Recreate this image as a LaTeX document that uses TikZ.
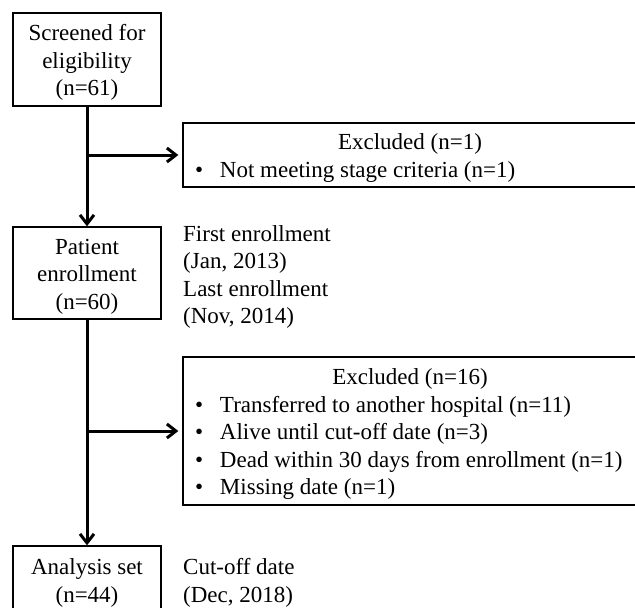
\documentclass[tikz,border=0pt]{standalone}
\usepackage{fontspec}
\setmainfont{Liberation Serif}
\usetikzlibrary{arrows.meta, positioning}
\newcommand{\exclitem}[1]{\makebox[430pt][l]{\makebox[25pt][l]{\textbullet}#1}}
\tikzset{
    x=1pt, y=-1pt, % pixel-like units, y grows downwards
    every node/.style={
        font=\fontsize{23}{27.5}\selectfont,
        execute at begin node={\rule{0pt}{22pt}} % a bit more room above the first line
    },
    flowbox/.style={ % main boxes on the left
        draw, line width=1.3pt, text width=140pt, align=flush center,
        inner xsep=4pt, inner ysep=0pt
    },
    exclbox/.style={ % exclusion boxes on the right
        draw, line width=1.3pt, text width=430pt, align=flush center,
        inner xsep=12pt, inner ysep=0pt
    },
    sidenote/.style={anchor=west, text width=200pt, align=flush left, inner sep=0pt},
    every edge/.style={ % thick arrows of the flow
        draw, line width=3pt,
        -{Straight Barb[length=9pt,width=14pt]}
    }
}

\begin{document}
\begin{tikzpicture}
    \useasboundingbox (0,0) rectangle (635,608);
    \clip (0,0) rectangle (635,608);
    \node[flowbox, minimum height=93pt] (screen)   at (87,59.5) {Screened for\\eligibility\\(n=61)};
    \node[flowbox, minimum height=92pt] (enroll)   at (87,273)  {Patient\\enrollment\\(n=60)};
    \node[flowbox, minimum height=68pt] (analysis) at (87,580)  {Analysis set\\(n=44)};
    \node[exclbox, minimum height=64pt]  (excl1) at (410,155) {Excluded (n=1)\\
        \exclitem{Not meeting stage criteria (n=1)}};
    \node[exclbox, minimum height=148pt] (excl2) at (410,431) {Excluded (n=16)\\
        \exclitem{Transferred to another hospital (n=11)}\\
        \exclitem{Alive until cut-off date (n=3)}\\
        \exclitem{Dead within 30 days from enrollment (n=1)}\\
        \exclitem{Missing date (n=1)}};
    \node[sidenote] (dates)  at (183,274) {First enrollment\\(Jan, 2013)\\Last enrollment\\(Nov, 2014)};
    \node[sidenote] (cutoff) at (183,580) {Cut-off date\\(Dec, 2018)};
    \draw   (screen) edge (enroll)
            (enroll) edge (analysis)
            (screen.south |- excl1.west) edge[shorten >=4pt] (excl1)
            (enroll.south |- excl2.west) edge[shorten >=4pt] (excl2)
    ;
\end{tikzpicture}
\end{document}
